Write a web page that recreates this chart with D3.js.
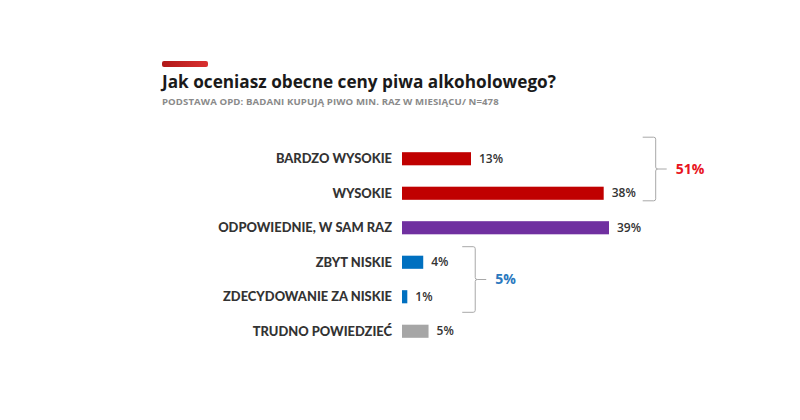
<!DOCTYPE html>
<html><head><meta charset="utf-8">
<script src="https://cdn.jsdelivr.net/npm/d3@7"></script>
<style>body{margin:0;background:#fff}</style>
</head><body>
<svg id="c" width="800" height="420"></svg>
<script>
const categories = ["BARDZO WYSOKIE","WYSOKIE","ODPOWIEDNIE, W SAM RAZ","ZBYT NISKIE","ZDECYDOWANIE ZA NISKIE","TRUDNO POWIEDZIEĆ"];
const values = [13,38,39,4,1,5];
const colors = ["#c00000","#c00000","#7030a0","#0070c0","#0070c0","#a6a6a6"];
const groups = [{from:0,to:1,label:"51%",color:"#e8141e"},{from:3,to:4,label:"5%",color:"#2a78be"}];
const title = "Jak oceniasz obecne ceny piwa alkoholowego?";
const subtitle = "PODSTAWA OPD: BADANI KUPUJĄ PIWO MIN. RAZ W MIESIĄCU/ N=478";

const svg = d3.select("#c");
const defs = svg.append("defs");
const g = defs.append("linearGradient").attr("id","acc");
g.append("stop").attr("offset","0").attr("stop-color","#b01818");
g.append("stop").attr("offset","1").attr("stop-color","#d93030");
svg.append("rect").attr("x",162).attr("y",61).attr("width",46).attr("height",6).attr("rx",2).attr("fill","url(#acc)");

svg.append("text").attr("x",162).attr("y",88).text(title)
  .attr("font-family","Open Sans, sans-serif").attr("font-weight",700).attr("font-size",17.2).attr("fill","#1a1a1a");
svg.append("text").attr("x",162).attr("y",105).text(subtitle)
  .attr("font-family","Open Sans, sans-serif").attr("font-weight",700).attr("font-size",9.6).attr("fill","#8a8a8a").attr("letter-spacing",0.1);

const x = d3.scaleLinear().domain([0,39]).range([402,609]);
const y = d3.scaleBand().domain(categories).range([141.5,348.5]).paddingInner(0.62).paddingOuter(0.31);

svg.selectAll("rect.bar").data(values).join("rect").attr("class","bar")
  .attr("x",x(0)).attr("y",(d,i)=>y(categories[i]))
  .attr("width",d=>x(d)-x(0)).attr("height",y.bandwidth()).attr("fill",(d,i)=>colors[i]);

svg.selectAll("text.cat").data(categories).join("text").attr("class","cat")
  .attr("x",392).attr("y",d=>y(d)+y.bandwidth()/2).attr("dy","0.35em")
  .attr("text-anchor","end").text(d=>d)
  .attr("font-family","Lato, sans-serif").attr("font-weight",900).attr("font-size",12.9).attr("fill","#333");

svg.selectAll("text.val").data(values).join("text").attr("class","val")
  .attr("x",d=>x(d)+8).attr("y",(d,i)=>y(categories[i])+y.bandwidth()/2).attr("dy","0.35em")
  .text(d=>d+"%")
  .attr("font-family","Open Sans, sans-serif").attr("font-weight",600).attr("font-size",12).attr("fill","#333");

const pads = [[15,1],[9,9]];
groups.forEach((gr,k)=>{
  const maxV = d3.max(values.slice(gr.from,gr.to+1));
  const bx = x(maxV) + 39;
  const top = y(categories[gr.from]) - pads[k][0];
  const bot = y(categories[gr.to]) + y.bandwidth() + pads[k][1];
  const mid = (top+bot)/2;
  const p = d3.path();
  const w = 13, r = 2;
  p.moveTo(bx, top);
  p.lineTo(bx+w-r, top);
  p.quadraticCurveTo(bx+w, top, bx+w, top+r);
  p.lineTo(bx+w, mid-r);
  p.quadraticCurveTo(bx+w, mid, bx+w+r, mid);
  p.lineTo(bx+w+11, mid);
  p.moveTo(bx+w+r, mid);
  p.quadraticCurveTo(bx+w, mid, bx+w, mid+r);
  p.lineTo(bx+w, bot-r);
  p.quadraticCurveTo(bx+w, bot, bx+w-r, bot);
  p.lineTo(bx, bot);
  svg.append("path").attr("d",p.toString()).attr("fill","none").attr("stroke","#a8a8a8").attr("stroke-width",1);
  svg.append("text").attr("x",bx+w+20).attr("y",mid).attr("dy","0.35em").text(gr.label)
    .attr("font-family","Open Sans, sans-serif").attr("font-weight",700).attr("font-size",14).attr("fill",gr.color);
});
</script>
</body></html>
